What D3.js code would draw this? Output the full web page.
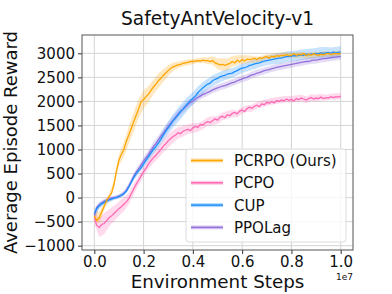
<!DOCTYPE html>
<html>
<head>
<meta charset="utf-8">
<script src="https://cdn.jsdelivr.net/npm/d3@7"></script>
<style>
  body { margin: 0; background: #fff; }
  text { font-family: "DejaVu Sans", sans-serif; }
</style>
</head>
<body>
<div id="chart"></div>
<script>
// sampled every 0.01e7 env steps
var steps = d3.range(101).map(function(i) { return i * 1e5; });
// band half widths sampled every 0.02e7 steps
var bandSteps = d3.range(51).map(function(i) { return i * 2e5; });

var pcrpo = [-380,-480,-420,-300,-180,-60,20,90,280,560,
  780,900,1000,1170,1300,1440,1580,1710,1850,1990,
  2040,2100,2150,2230,2300,2360,2430,2480,2540,2590,
  2640,2690,2720,2740,2760,2770,2790,2800,2810,2830,
  2830,2840,2850,2840,2860,2850,2850,2830,2850,2800,
  2780,2760,2770,2750,2770,2790,2830,2800,2860,2820,
  2870,2840,2880,2870,2880,2900,2870,2910,2890,2920,
  2930,2900,2940,2920,2950,2940,2960,2950,2970,2950,
  2960,2990,2960,2980,2970,3000,2950,2980,2960,2990,
  2970,2960,2980,2970,2990,3000,2980,2990,3000,2990,3000];
var pcpo = [-420,-580,-620,-560,-540,-480,-420,-380,-330,-280,
  -230,-190,-140,-90,-20,80,180,280,360,450,
  540,610,700,770,830,880,940,1000,1070,1120,
  1180,1230,1270,1300,1350,1330,1380,1400,1420,1390,
  1450,1480,1460,1520,1510,1550,1580,1560,1600,1640,
  1610,1670,1690,1660,1720,1700,1750,1770,1740,1800,
  1820,1790,1850,1880,1860,1900,1920,1890,1950,1930,
  1980,1960,2000,1970,2020,2000,2030,2010,2050,2020,
  2040,2010,2060,2040,2070,2050,2030,2060,2080,2050,
  2070,2060,2090,2060,2080,2070,2100,2080,2100,2090,2110];
var cup = [-330,-230,-170,-130,-100,-70,-50,-30,-10,0,
  20,50,80,130,220,320,420,500,560,620,
  700,780,850,930,1000,1060,1130,1210,1300,1380,
  1450,1520,1600,1660,1720,1790,1840,1900,1960,2020,
  2060,2110,2180,2230,2280,2320,2360,2380,2430,2460,
  2480,2510,2530,2540,2570,2580,2590,2620,2640,2670,
  2690,2700,2720,2750,2760,2780,2790,2800,2820,2840,
  2850,2860,2870,2880,2890,2900,2900,2920,2930,2930,
  2940,2950,2950,2960,2970,2960,2980,2970,2990,2980,
  3000,2990,3010,3000,3010,3020,3000,3030,3010,3020,3030];
var ppolag = [-380,-200,-150,-110,-80,-50,-30,-10,0,10,
  30,50,90,150,240,340,440,530,600,680,
  760,830,900,980,1060,1120,1200,1280,1340,1410,
  1480,1550,1610,1670,1740,1790,1840,1890,1940,1980,
  2010,2050,2080,2110,2140,2160,2190,2210,2240,2260,
  2280,2300,2320,2330,2350,2370,2390,2400,2430,2450,
  2470,2490,2500,2530,2550,2560,2590,2600,2620,2640,
  2650,2660,2680,2690,2710,2720,2730,2740,2750,2760,
  2770,2780,2790,2800,2810,2820,2830,2830,2850,2860,
  2860,2870,2880,2890,2890,2900,2910,2920,2920,2930,2930];

var pcrpoBand = [100,120,80,60,80,120,150,180,200,200,190,170,150,150,130,110,90,70,60,60,
  50,50,60,70,90,110,130,120,110,100,90,80,70,60,60,55,50,50,55,50,
  50,60,55,60,60,55,60,55,50,55,50];
var pcpoBand = [120,200,220,180,160,150,140,120,110,100,100,100,110,120,130,140,130,120,110,100,
  100,90,90,90,90,80,80,80,80,70,70,70,70,70,70,70,70,70,70,70,
  70,70,70,70,70,70,70,60,60,70,60];
var cupBand = [100,60,50,50,40,40,40,50,60,60,70,80,90,100,120,130,140,150,150,140,
  130,130,120,110,110,110,110,110,100,100,100,100,100,100,100,100,100,110,110,110,
  110,110,110,110,110,110,120,120,120,120,120];
var ppolagBand = [100,60,50,50,40,40,50,60,70,80,80,90,90,90,90,90,80,80,80,80,
  70,70,70,70,70,70,70,70,70,70,70,70,70,70,70,70,70,70,70,70,
  70,70,70,70,70,70,70,70,70,70,70];

var seriesNames = ["PCRPO (Ours)", "PCPO", "CUP", "PPOLag"];
var seriesValues = [pcrpo, pcpo, cup, ppolag];
var seriesBands = [pcrpoBand, pcpoBand, cupBand, ppolagBand];
var colors = ["#ffa500", "#ff69b4", "#1e90ff", "#9370db"];
// draw order: pink and purple first, blue, orange on top
var drawOrder = [1, 3, 2, 0];

var xTicks = [0, 2e6, 4e6, 6e6, 8e6, 1e7];
var yTicks = [-1000, -500, 0, 500, 1000, 1500, 2000, 2500, 3000];

var svgWidth = 392, svgHeight = 294;
var margin = { top: 35, right: 39, bottom: 44, left: 82 };
var width = svgWidth - margin.left - margin.right;
var height = svgHeight - margin.top - margin.bottom;

var svg = d3.select("#chart").append("svg")
  .attr("width", svgWidth)
  .attr("height", svgHeight);

var chartGroup = svg.append("g")
  .attr("transform", `translate(${margin.left}, ${margin.top})`);

var xScale = d3.scaleLinear().domain([-0.05e7, 1.05e7]).range([0, width]);
var yScale = d3.scaleLinear().domain([-1090, 3381]).range([height, 0]);

// grid
chartGroup.append("g").selectAll("line")
  .data(xTicks).enter().append("line")
  .attr("x1", d => xScale(d)).attr("x2", d => xScale(d))
  .attr("y1", 0).attr("y2", height)
  .attr("stroke", "#d4d4d4").attr("stroke-width", 1);
chartGroup.append("g").selectAll("line")
  .data(yTicks).enter().append("line")
  .attr("x1", 0).attr("x2", width)
  .attr("y1", d => yScale(d)).attr("y2", d => yScale(d))
  .attr("stroke", "#d4d4d4").attr("stroke-width", 1);

var area = d3.area()
  .x(d => xScale(d.x))
  .y0(d => yScale(d.lo))
  .y1(d => yScale(d.hi));
var line = d3.line()
  .x(d => xScale(d.x))
  .y(d => yScale(d.y));

drawOrder.forEach(function(k) {
  var vals = seriesValues[k];
  var band = seriesBands[k].map(function(w, i) {
    var v = vals[i * 2];
    return { x: bandSteps[i], lo: v - w, hi: v + w };
  });
  chartGroup.append("path")
    .datum(band)
    .attr("d", area)
    .attr("fill", colors[k])
    .attr("fill-opacity", 0.25)
    .attr("stroke", "none");
});
drawOrder.forEach(function(k) {
  var pts = steps.map(function(s, i) { return { x: s, y: seriesValues[k][i] }; });
  chartGroup.append("path")
    .datum(pts)
    .attr("d", line)
    .attr("fill", "none")
    .attr("stroke", colors[k])
    .attr("stroke-width", 1.3);
});

// axes
var bottomAxis = d3.axisBottom(xScale).tickValues(xTicks)
  .tickFormat(d => (d / 1e7).toFixed(1)).tickSize(4).tickPadding(2);
var leftAxis = d3.axisLeft(yScale).tickValues(yTicks)
  .tickFormat(d => d < 0 ? "\u2212" + Math.abs(d) : d).tickSize(4).tickPadding(3);

var xAxis = chartGroup.append("g")
  .attr("transform", `translate(0, ${height})`)
  .call(bottomAxis);
var yAxis = chartGroup.append("g").call(leftAxis);
[xAxis, yAxis].forEach(function(ax) {
  ax.select(".domain").remove();
  ax.selectAll("line").attr("stroke", "#333");
  ax.selectAll("text").attr("font-size", "15px").attr("fill", "#111")
    .style("font-family", "DejaVu Sans");
});

// frame
chartGroup.append("rect")
  .attr("x", 0).attr("y", 0).attr("width", width).attr("height", height)
  .attr("fill", "none").attr("stroke", "#555").attr("stroke-width", 1);

// labels
svg.append("text")
  .attr("x", margin.left + width / 2).attr("y", 25)
  .attr("text-anchor", "middle").attr("font-size", "18.6px").attr("fill", "#111")
  .text("SafetyAntVelocity-v1");
svg.append("text")
  .attr("x", margin.left + width / 2).attr("y", 288)
  .attr("text-anchor", "middle").attr("font-size", "18.3px").attr("fill", "#111")
  .text("Environment Steps");
svg.append("text")
  .attr("transform", `translate(17, ${margin.top + height / 2}) rotate(-90)`)
  .attr("text-anchor", "middle").attr("font-size", "18px").attr("fill", "#111")
  .text("Average Episode Reward");
svg.append("text")
  .attr("x", margin.left + width).attr("y", 280)
  .attr("text-anchor", "end").attr("font-size", "9px").attr("fill", "#111")
  .text("1e7");

// legend
var legend = svg.append("g").attr("transform", "translate(186, 149)");
legend.append("rect")
  .attr("width", 160).attr("height", 93).attr("rx", 3)
  .attr("fill", "#fff").attr("fill-opacity", 0.8)
  .attr("stroke", "#ddd").attr("stroke-width", 1);
seriesNames.forEach(function(name, i) {
  var y = 11.5 + i * 22.3;
  legend.append("line")
    .attr("x1", 5).attr("x2", 37).attr("y1", y).attr("y2", y)
    .attr("stroke", colors[i]).attr("stroke-opacity", 0.35).attr("stroke-width", 4);
  legend.append("line")
    .attr("x1", 5).attr("x2", 37).attr("y1", y).attr("y2", y)
    .attr("stroke", colors[i]).attr("stroke-width", 1.5);
  legend.append("text")
    .attr("x", 48).attr("y", y + 5.5)
    .attr("font-size", "15px").attr("fill", "#111")
    .text(name);
});
</script>
</body>
</html>
